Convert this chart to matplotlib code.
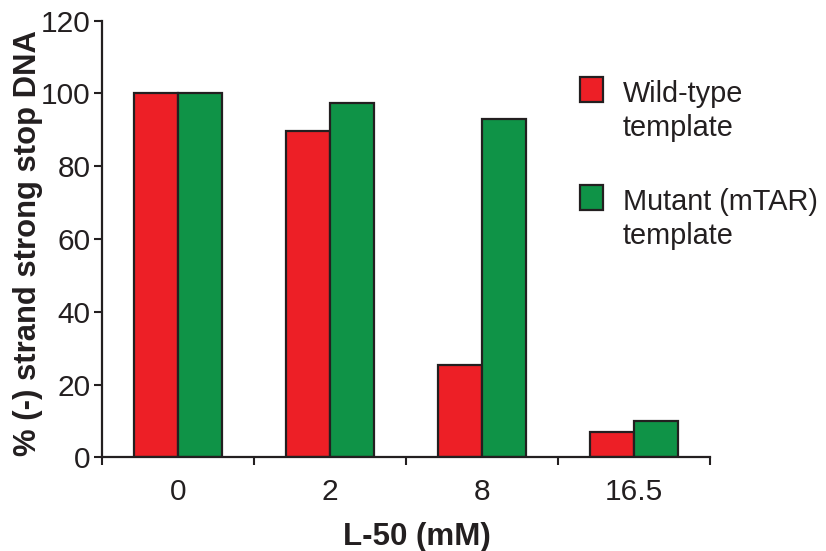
import matplotlib
matplotlib.use("Agg")
import matplotlib.pyplot as plt
from matplotlib.patches import Rectangle
import numpy as np

# ---- data ----
categories = ["0", "2", "8", "16.5"]
wild_type = [100, 89.6, 25.5, 7.0]
mutant = [100, 97.4, 93.1, 10.0]
series_labels = ["Wild-type\ntemplate", "Mutant (mTAR)\ntemplate"]
y_ticks = [0, 20, 40, 60, 80, 100, 120]
x_label = "L-50 (mM)"
y_label = "% (-) strand strong stop DNA"

RED = "#ED1F26"
GREEN = "#0F9347"
EDGE = "#231F20"

plt.rcParams["font.family"] = ["Liberation Sans", "DejaVu Sans"]

W, H = 826, 551
fig = plt.figure(figsize=(W / 100, H / 100), dpi=100)
ax = fig.add_axes([101.7 / W, 1 - 457.3 / H, (710 - 101.7) / W, (457.3 - 20.7) / H])

x = np.arange(len(categories))
bw = 0.29
ax.bar(x - bw / 2, wild_type, bw, color=RED, edgecolor=EDGE, linewidth=1.6, zorder=2)
ax.bar(x + bw / 2, mutant, bw, color=GREEN, edgecolor=EDGE, linewidth=1.6, zorder=2)

ax.set_xlim(-0.5, len(categories) - 0.5)
ax.set_ylim(0, 120)
ax.set_yticks(y_ticks)
ax.set_yticklabels([str(v) for v in y_ticks], fontsize=21.5, color="#231F20")

ax.set_xticks(x)
ax.set_xticklabels(categories, fontsize=21.5, color="#231F20")
ax.set_xticks(np.arange(-0.5, len(categories), 1.0), minor=True)
ax.tick_params(axis="x", which="major", length=0, pad=15)
ax.tick_params(axis="x", which="minor", length=6, width=1.5, color=EDGE, direction="out")
ax.tick_params(axis="y", which="major", length=6, width=1.5, color=EDGE, direction="out", pad=2)

for s in ["top", "right"]:
    ax.spines[s].set_visible(False)
for s in ["left", "bottom"]:
    ax.spines[s].set_linewidth(1.6)
    ax.spines[s].set_color(EDGE)

ax.set_xlabel(x_label, fontsize=22.5, fontweight="bold", color="#231F20")
ax.xaxis.set_label_coords((417 - 101.7) / (710 - 101.7), -(545 - 457.3) / (457.3 - 20.7))
ax.xaxis.label.set_va("baseline")
ax.set_ylabel(y_label, fontsize=22.3, fontweight="bold", color="#231F20")
ax.yaxis.set_label_coords(-(101.7 - 36) / (710 - 101.7), 0.49)
ax.yaxis.label.set_va("baseline")

# ---- legend (manual) ----
legend_colors = [RED, GREEN]
sq_tops = [77, 185]
for lab, col, top in zip(series_labels, legend_colors, sq_tops):
    fig.add_artist(Rectangle((580 / W, 1 - (top + 25) / H), 23 / W, 25 / H,
                             transform=fig.transFigure, facecolor=col,
                             edgecolor=EDGE, linewidth=1.6))
    for i, line in enumerate(lab.split("\n")):
        base = top + 25 + i * 34.5
        fig.text(623 / W, 1 - base / H, line, fontsize=20.8, va="baseline", ha="left",
                 color="#231F20")

fig.savefig("out.png", dpi=100)
